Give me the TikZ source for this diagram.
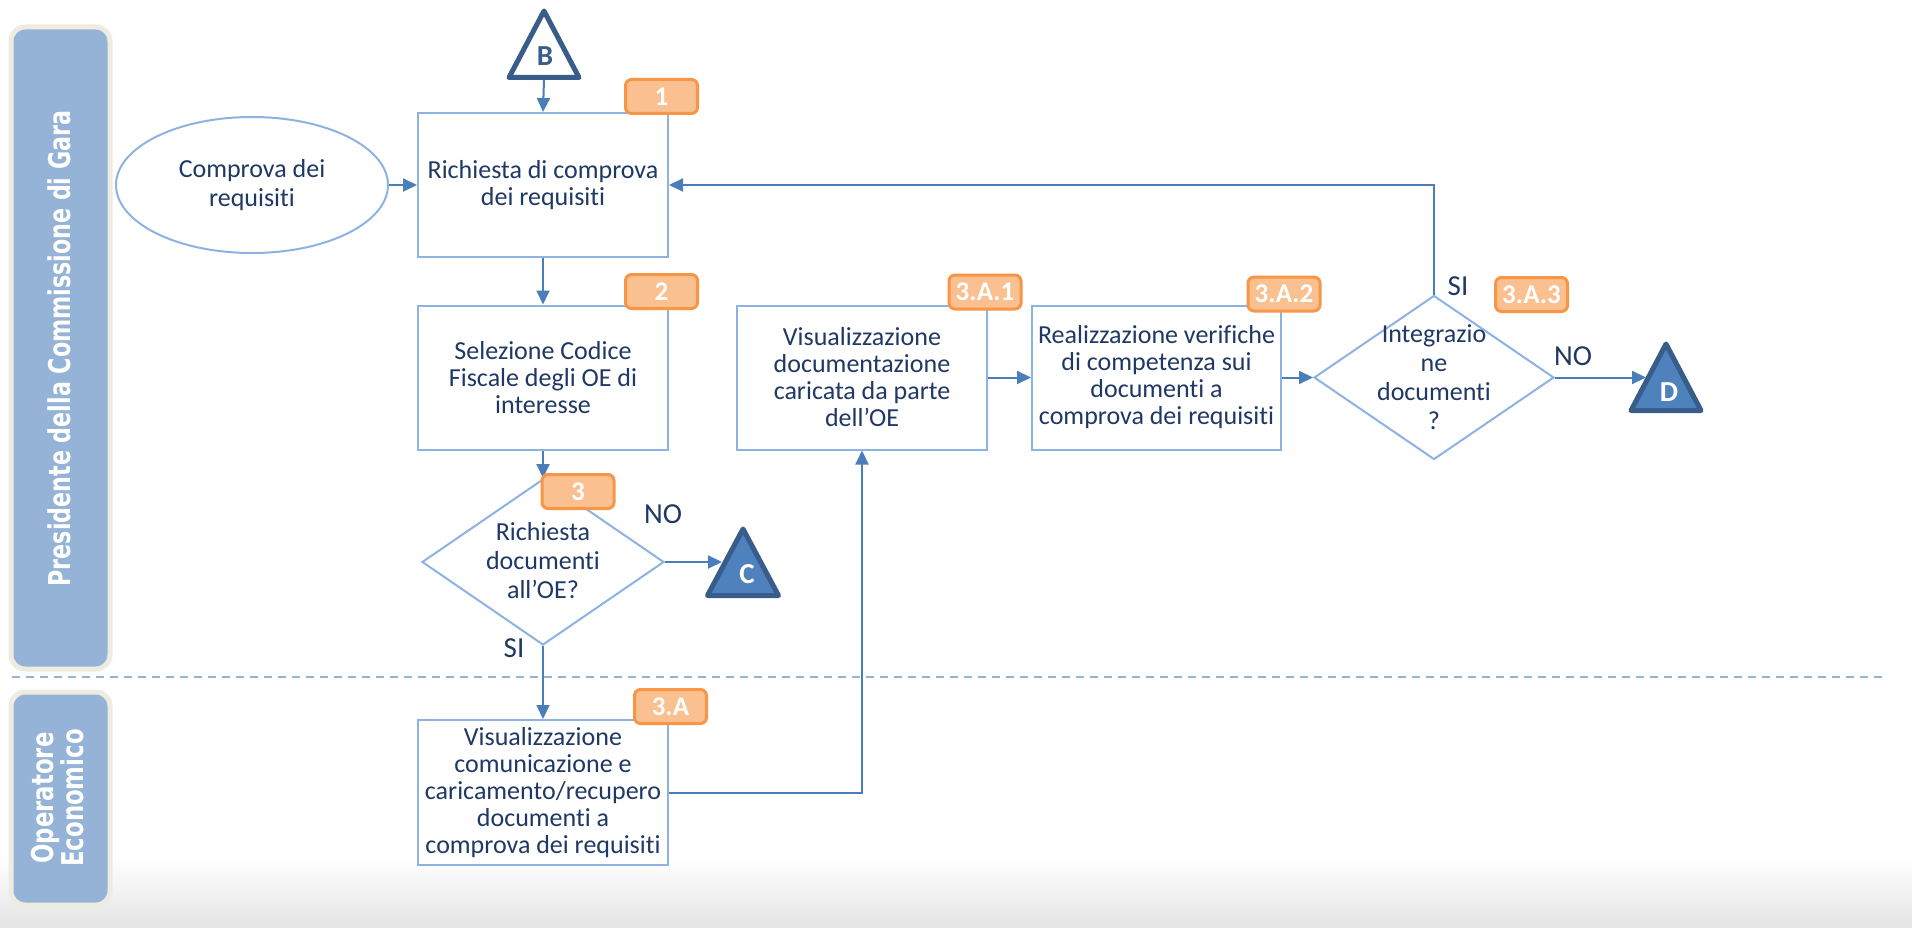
\documentclass[tikz,border=0pt]{standalone}
\usepackage{fontspec}
\setmainfont[Ligatures={NoCommon}]{Carlito}
\newfontfamily\lanefont{DejaVu Sans}
\usetikzlibrary{arrows.meta,shapes.geometric}
\definecolor{navy}{HTML}{1F3864}
\definecolor{boxc}{HTML}{8DB3E2}
\definecolor{arrowc}{HTML}{4A7EBB}
\definecolor{lanefill}{HTML}{95B3D7}
\definecolor{laneedge}{HTML}{EEECE1}
\definecolor{trifill}{HTML}{4F81BD}
\definecolor{triedge}{HTML}{385D8A}
\definecolor{badgefill}{HTML}{FAC090}
\definecolor{badgeedge}{HTML}{F79646}
\definecolor{dashc}{HTML}{95B3D7}
\definecolor{grayc}{HTML}{E4E4E4}
\begin{document}
\begin{tikzpicture}[x=1pt,y=-1pt,
  stepbox/.style={draw=boxc, fill=white, line width=2pt, minimum width=250pt, minimum height=144pt,
    inner sep=0pt, align=center, text=navy, font=\fontsize{26}{27}\selectfont},
  decision/.style={draw=boxc, fill=white, line width=2pt, diamond, inner sep=0pt},
  dectext/.style={align=center, text=navy, inner sep=0pt, font=\fontsize{26}{29}\selectfont},
  startell/.style={draw=boxc, fill=white, line width=2pt, ellipse, minimum width=272pt, minimum height=136pt,
    inner sep=0pt, align=center, text=navy, font=\fontsize{26}{29}\selectfont},
  badge/.style={draw=badgeedge, fill=badgefill, line width=3pt, rounded corners=6pt,
    minimum width=72pt, minimum height=34pt, inner sep=0pt, text=white,
    font=\fontsize{27}{27}\selectfont\bfseries},
  arr/.style={draw=arrowc, line width=2pt, -{Triangle[length=14pt,width=13pt]}},
  lbl/.style={text=navy, inner sep=0pt, font=\fontsize{29}{29}\selectfont},
  lane/.style={draw=laneedge, fill=lanefill, line width=5pt, rounded corners=14pt},
  lanetext/.style={text=white, align=center, inner sep=0pt, rotate=90,
    font={\lanefont\fontsize{30}{30}\selectfont\bfseries}},
  tri/.style={draw=triedge, fill=trifill, line width=5pt, line join=round},
  triwhite/.style={draw=triedge, fill=white, line width=5pt, line join=round},
  triletter/.style={inner sep=0pt, font=\fontsize{29}{29}\selectfont\bfseries}
]
\useasboundingbox (0,0) rectangle (1912,928);
\fill[white] (0,0) rectangle (1912,928);
\shade[top color=white, bottom color=grayc] (0,858) rectangle (1912,928);

% lanes
\draw[lane] (11,27) rectangle (110,669);
\draw[lane] (11,692) rectangle (110,905);
\node[lanetext] (lane1) at (59,348.5) {\scalebox{0.74}[1]{Presidente della Commissione di Gara}};
\node[lanetext] (lane2) at (58,798) {\scalebox{0.76}[1]{Operatore}\\\scalebox{0.76}[1]{Economico}};

% lane separator
\draw[dashc, line width=2.5pt, dash pattern=on 8pt off 6pt] (12,677) -- (1884,677);

% nodes
\node[startell] (ell) at (252,185) {Comprova dei\\requisiti};
\node[stepbox] (b1) at (543,185) {Richiesta di comprova\\dei requisiti};
\node[stepbox] (b2) at (543,377.5) {Selezione Codice\\Fiscale degli OE di\\interesse};
\node[decision, minimum width=242pt, minimum height=166pt] (d3) at (543,562) {};
\node[dectext] (d3t) at (543,561) {Richiesta\\documenti\\all’OE?};
\node[stepbox, minimum height=145pt] (b3a) at (543,792.5) {Visualizzazione\\comunicazione e\\caricamento/recupero\\documenti a\\comprova dei requisiti};
\node[stepbox] (b3a1) at (862,377.5) {Visualizzazione\\documentazione\\caricata da parte\\dell’OE};
\node[stepbox, minimum width=249pt] (b3a2) at (1156.5,377.5) {Realizzazione verifiche\\di competenza sui\\documenti a\\comprova dei requisiti};
\node[decision, minimum width=240pt, minimum height=164pt] (d3a3) at (1434,377.5) {};
\node[dectext] (d3a3t) at (1434,377.5) {Integrazio\\ne\\documenti\\?};

% connector triangles
\draw[triwhite] (544,11) -- (579,77.5) -- (509,77.5) -- cycle;
\node[triletter, text=triedge] (B) at (545,56) {B};
\coordinate (Bout) at (544,80);
\draw[tri] (743,529) -- (778.5,595.5) -- (707.5,595.5) -- cycle;
\node[triletter, text=white] (C) at (747,574) {C};
\coordinate (Cin) at (722,562);
\draw[tri] (1666,344) -- (1701,410.5) -- (1631,410.5) -- cycle;
\node[triletter, text=white] (D) at (1669,392) {D};
\coordinate (Din) at (1646,377.5);

% connectors
\draw[arr] (Bout) -- (b1.north);
\draw[arr] (ell.east) -- (b1.west);
\draw[arr] (b1.south) -- (b2.north);
\draw[arr] (b2.south) -- (d3.north);
\draw[arr] (d3.east) -- (Cin);
\draw[arr] (d3.south) -- (b3a.north);
\draw[arr] (b3a.east) -| (b3a1.south);
\draw[arr] (b3a1.east) -- (b3a2.west);
\draw[arr] (b3a2.east) -- (d3a3.west);
\draw[arr] (d3a3.east) -- (Din);
\draw[arr] (d3a3.north) |- (b1.east);

% labels
\node[lbl] (no1) at (663,514) {NO};
\node[lbl] (si1) at (514,648.5) {SI};
\node[lbl] (si2) at (1458,286) {SI};
\node[lbl] (no2) at (1573,356) {NO};

% badges
\node[badge] (bd1) at (661.5,96.5) {1};
\node[badge] (bd2) at (661.5,291.5) {2};
\node[badge] (bd3) at (578,491.5) {3};
\node[badge] (bd3a) at (670.5,706.5) {3.A};
\node[badge] (bd3a1) at (985,292) {3.A.1};
\node[badge] (bd3a2) at (1284,294) {3.A.2};
\node[badge] (bd3a3) at (1531.5,294.5) {3.A.3};
\end{tikzpicture}
\end{document}
